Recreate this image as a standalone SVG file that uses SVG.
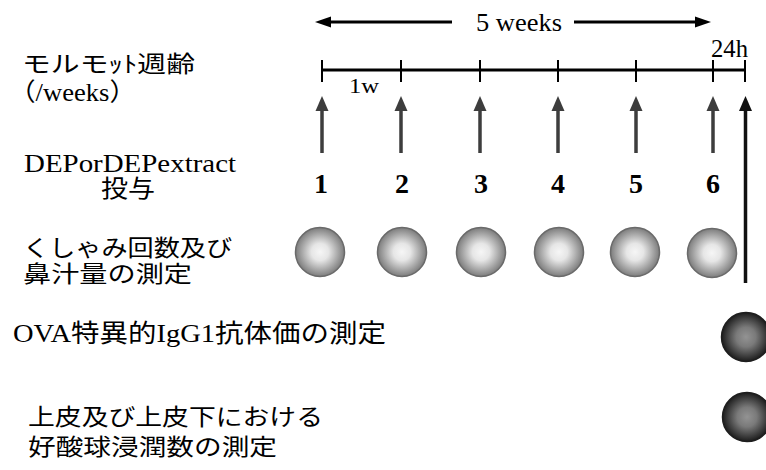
<svg xmlns="http://www.w3.org/2000/svg" width="766" height="470" viewBox="0 0 766 470">
<style>
.ser{font-family:"Liberation Serif","Noto Sans CJK JP",serif;fill:#000}
.jp{font-family:"Noto Sans CJK JP","Noto Sans CJK SC",sans-serif;fill:#000}
.num{font-family:"Liberation Serif",serif;font-weight:bold;font-size:28px;text-anchor:middle;fill:#000}
.ln{stroke:#000;stroke-width:3;fill:none}
.tick{stroke:#000;stroke-width:2}
.shaft{stroke:#3d3d3d;stroke-width:3.5}
.lite{fill:url(#gLite);stroke:#6a6a6a;stroke-width:1.5}
.dark{fill:url(#gDark);stroke:#1e1e1e;stroke-width:1.5}
</style>
<defs>
<radialGradient id="gLite" cx="0.5" cy="0.5" r="0.5">
<stop offset="0" stop-color="#f6f6f6"/>
<stop offset="0.35" stop-color="#e6e6e6"/>
<stop offset="1" stop-color="#7c7c7c"/>
</radialGradient>
<radialGradient id="gDark" cx="0.5" cy="0.5" r="0.5">
<stop offset="0" stop-color="#939393"/>
<stop offset="0.4" stop-color="#7a7a7a"/>
<stop offset="1" stop-color="#1c1c1c"/>
</radialGradient>
</defs>

<g id="span5w">
<path class="ln" d="M452,22 H325"/>
<path d="M315,22 L331,16.5 L331,27.5 Z" fill="#000"/>
<path class="ln" d="M574,22 H700"/>
<path d="M711,22 L695,16.5 L695,27.5 Z" fill="#000"/>
<text class="ser" x="476" y="31" font-size="25" textLength="86" lengthAdjust="spacingAndGlyphs">5 weeks</text>
</g>

<g id="timeline">
<path class="ln" d="M322,70 H745"/>
<path class="tick" d="M322,60 V82 M401,60 V82 M480,60 V82 M558,60 V82 M636,60 V82 M713,60 V82 M745,60 V82"/>
<text class="ser" x="349" y="93" font-size="22" textLength="30" lengthAdjust="spacingAndGlyphs">1w</text>
<text class="ser" x="711" y="57" font-size="25" textLength="37" lengthAdjust="spacingAndGlyphs">24h</text>
</g>

<g id="labels">
<text class="jp" x="22" y="72" font-size="23" textLength="173" lengthAdjust="spacingAndGlyphs">モルモｯﾄ週齢</text>
<text class="ser" x="9" y="101" font-size="25" textLength="127" lengthAdjust="spacingAndGlyphs">（/weeks）</text>
<text class="ser" x="24" y="172" font-size="26" textLength="212" lengthAdjust="spacingAndGlyphs">DEPorDEPextract</text>
<text class="jp" x="101" y="197" font-size="24" textLength="54" lengthAdjust="spacingAndGlyphs">投与</text>
<text class="jp" x="23" y="256" font-size="23" textLength="209" lengthAdjust="spacingAndGlyphs">くしゃみ回数及び</text>
<text class="jp" x="23" y="282" font-size="23" textLength="169" lengthAdjust="spacingAndGlyphs">鼻汁量の測定</text>
<text class="ser" x="13" y="342" font-size="25" textLength="373" lengthAdjust="spacingAndGlyphs">OVA特異的IgG1抗体価の測定</text>
<text class="jp" x="28" y="425" font-size="23" textLength="295" lengthAdjust="spacingAndGlyphs">上皮及び上皮下における</text>
<text class="jp" x="28" y="455" font-size="23" textLength="249" lengthAdjust="spacingAndGlyphs">好酸球浸潤数の測定</text>
</g>

<g id="doses">
<g id="dose1"><path class="shaft" d="M322,108 V153"/><path d="M322,96 L315.5,111 L328.5,111 Z" fill="#3d3d3d"/><text class="num" x="321" y="193">1</text></g>
<g id="dose2"><path class="shaft" d="M401,108 V153"/><path d="M401,96 L394.5,111 L407.5,111 Z" fill="#3d3d3d"/><text class="num" x="402" y="193">2</text></g>
<g id="dose3"><path class="shaft" d="M480,108 V153"/><path d="M480,96 L473.5,111 L486.5,111 Z" fill="#3d3d3d"/><text class="num" x="481" y="193">3</text></g>
<g id="dose4"><path class="shaft" d="M558,108 V153"/><path d="M558,96 L551.5,111 L564.5,111 Z" fill="#3d3d3d"/><text class="num" x="558" y="193">4</text></g>
<g id="dose5"><path class="shaft" d="M636,108 V153"/><path d="M636,96 L629.5,111 L642.5,111 Z" fill="#3d3d3d"/><text class="num" x="636" y="193">5</text></g>
<g id="dose6"><path class="shaft" d="M713,108 V153"/><path d="M713,96 L706.5,111 L719.5,111 Z" fill="#3d3d3d"/><text class="num" x="713" y="193">6</text></g>
<g id="final"><path d="M745.5,108 V283" stroke="#111" stroke-width="3.5"/><path d="M745.5,96 L739,111 L752,111 Z" fill="#111"/></g>
</g>

<g id="sneeze">
<circle class="lite" cx="320" cy="252" r="24.5"/>
<circle class="lite" cx="402" cy="252" r="24.5"/>
<circle class="lite" cx="481" cy="252" r="24.5"/>
<circle class="lite" cx="559" cy="252" r="24.5"/>
<circle class="lite" cx="635" cy="252" r="24.5"/>
<circle class="lite" cx="712" cy="253" r="24.5"/>
</g>
<g id="igg1"><circle class="dark" cx="746" cy="337" r="24.5"/></g>
<g id="eos"><circle class="dark" cx="747" cy="417" r="24.5"/></g>
</svg>
